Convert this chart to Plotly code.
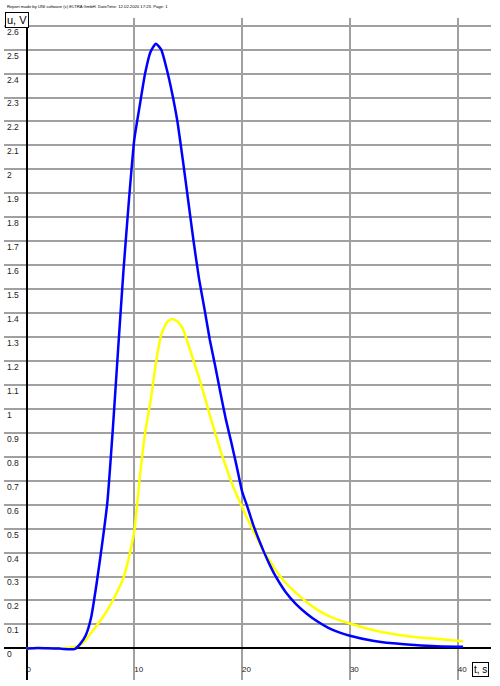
import plotly.graph_objects as go

# time axis (s)
t_blue = [0, 1, 2, 3, 3.5, 4, 4.5, 5, 5.5, 6, 6.5, 7, 7.5, 8, 8.5, 9, 9.5, 10, 10.5, 11, 11.5,
          12, 12.5, 13, 13.5, 14, 14.5, 15, 15.5, 16, 16.5, 17, 17.5, 18, 18.5, 19, 19.5, 20,
          20.5, 21, 21.5, 22, 22.5, 23, 23.5, 24, 25, 26, 27, 28, 29, 30, 32, 34, 36, 38, 40.5]
u_blue = [0, 0.002, 0.001, -0.001, -0.003, -0.004, -0.002, 0.02, 0.055, 0.13, 0.27, 0.43, 0.61,
          0.91, 1.25, 1.58, 1.87, 2.125, 2.265, 2.40, 2.49, 2.525, 2.50, 2.42, 2.32, 2.20, 2.04,
          1.87, 1.70, 1.545, 1.42, 1.29, 1.18, 1.065, 0.955, 0.86, 0.76, 0.655, 0.59, 0.52,
          0.46, 0.405, 0.355, 0.31, 0.272, 0.238, 0.185, 0.145, 0.112, 0.086, 0.067, 0.053,
          0.033, 0.021, 0.014, 0.009, 0.007]

t_yellow = [0, 1, 2, 3, 4, 4.5, 5, 5.5, 6, 6.5, 7, 7.5, 8, 8.5, 9, 9.5, 10, 10.5, 11, 11.5,
            12, 12.5, 13, 13.5, 14, 14.5, 15, 15.5, 16, 16.5, 17, 17.5, 18, 18.5, 19, 19.5, 20,
            20.5, 21, 21.5, 22, 22.5, 23, 23.5, 24, 25, 26, 27, 28, 29, 30, 32, 34, 36, 38, 40.5]
u_yellow = [0, 0.002, 0.001, 0.0, 0.003, 0.006, 0.015, 0.035, 0.065, 0.095, 0.125, 0.16, 0.20,
            0.245, 0.295, 0.38, 0.49, 0.71, 0.90, 1.03, 1.19, 1.31, 1.36, 1.375, 1.365, 1.335,
            1.27, 1.20, 1.13, 1.055, 0.975, 0.90, 0.825, 0.76, 0.695, 0.64, 0.59, 0.54, 0.495,
            0.45, 0.405, 0.37, 0.335, 0.303, 0.275, 0.232, 0.193, 0.161, 0.136, 0.118, 0.104,
            0.078, 0.06, 0.048, 0.04, 0.03]

x_tickvals = [0, 10, 20, 30, 40]
x_ticktext = ["0", "10", "20", "30", "40"]
y_tickvals = [round(-0.1 + 0.1 * i, 1) for i in range(28)]
y_ticktext = ["-0.1", "0", "0.1", "0.2", "0.3", "0.4", "0.5", "0.6", "0.7", "0.8", "0.9", "1",
              "1.1", "1.2", "1.3", "1.4", "1.5", "1.6", "1.7", "1.8", "1.9", "2", "2.1", "2.2",
              "2.3", "2.4", "2.5", "2.6"]

header = "Report made by UNI software (c) ELTRA GmbH. DateTime: 12.02.2020 17:23. Page: 1"

fig = go.Figure()
fig.add_trace(go.Scatter(x=t_yellow, y=u_yellow, mode="lines",
                         line=dict(color="#ffff00", width=2.5, shape="spline", smoothing=0.5),
                         showlegend=False, hoverinfo="skip"))
fig.add_trace(go.Scatter(x=t_blue, y=u_blue, mode="lines",
                         line=dict(color="#0000ff", width=2.5, shape="spline", smoothing=0.5),
                         showlegend=False, hoverinfo="skip"))

fig.update_layout(
    width=500, height=686,
    margin=dict(l=4, r=9, t=18, b=6),
    paper_bgcolor="white", plot_bgcolor="white",
    font=dict(family="Liberation Sans, Arial, sans-serif", color="black"),
    xaxis=dict(range=[-2.087, 43.09], tickvals=x_tickvals, ticktext=x_ticktext,
               ticklabelposition="inside right", ticks="", showline=False,
               showgrid=True, gridcolor="#a0a0a0", gridwidth=1.5,
               zeroline=True, zerolinecolor="black", zerolinewidth=2,
               tickfont=dict(size=8, color="#222")),
    yaxis=dict(range=[-0.132, 2.632], tickvals=y_tickvals, ticktext=y_ticktext,
               ticklabelposition="inside bottom", ticks="", showline=False,
               showgrid=True, gridcolor="#a0a0a0", gridwidth=1.5,
               zeroline=True, zerolinecolor="black", zerolinewidth=2,
               tickfont=dict(size=8.5, color="#222")),
    annotations=[
        dict(text="u, V", xref="paper", yref="paper", x=0.002, y=1.009,
             xanchor="left", yanchor="top", showarrow=False,
             font=dict(size=11, color="black"), bordercolor="black", borderwidth=1,
             borderpad=1, bgcolor="white"),
        dict(text="t, s", xref="paper", yref="paper", x=0.961, y=0.027,
             xanchor="left", yanchor="top", showarrow=False,
             font=dict(size=10, color="black"), bordercolor="black", borderwidth=1,
             borderpad=1, bgcolor="white"),
        dict(text=header, xref="paper", yref="paper", x=0.002, y=1.024,
             xanchor="left", yanchor="top", showarrow=False,
             font=dict(size=4.2, color="black")),
    ],
)

fig.write_html("out.html", config={"displayModeBar": False},
               post_script="document.body.style.margin='0';")
